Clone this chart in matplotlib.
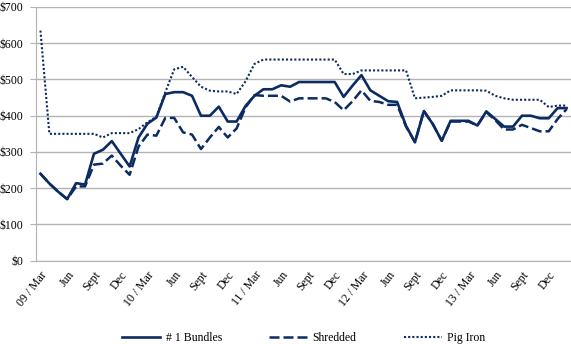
import matplotlib
matplotlib.use("Agg")
import matplotlib.pyplot as plt
import numpy as np

# monthly prices, Mar 2009 .. Feb 2014
bundles = [240, 213, 190, 170, 214, 210, 295, 306, 330, 295,
           260, 340, 378, 395, 460, 465, 465, 455, 400, 400,
           425, 384, 384, 427, 455, 473, 473, 484, 480, 493,
           493, 493, 493, 493, 452, 483, 512, 470, 455, 440,
           438, 372, 327, 413, 377, 331, 386, 386, 386, 373,
           412, 391, 370, 370, 400, 400, 393, 393, 421, 421]
shredded = [240, 213, 190, 170, 205, 205, 265, 268, 290, 262,
            237, 315, 348, 345, 394, 394, 354, 348, 308, 340,
            369, 340, 365, 423, 457, 455, 455, 455, 439, 448,
            448, 448, 448, 438, 415, 440, 470, 441, 438, 430,
            430, 370, 327, 413, 377, 331, 384, 384, 384, 373,
            410, 388, 362, 362, 375, 366, 357, 357, 391, 418]
pig_iron = [635, 350, 350, 350, 350, 350, 350, 340, 352, 352,
            352, 363, 382, 397, 465, 528, 535, 507, 480, 469,
            467, 467, 460, 495, 543, 555, 555, 555, 555, 555,
            555, 555, 555, 555, 515, 515, 525, 525, 525, 525,
            525, 525, 448, 450, 452, 455, 470, 470, 470, 470,
            469, 455, 448, 444, 444, 444, 444, 424, 428, 428]
tick_labels = ["09 / Mar", "Jun", "Sept", "Dec",
               "10 / Mar", "Jun", "Sept", "Dec",
               "11 / Mar", "Jun", "Sept", "Dec",
               "12 / Mar", "Jun", "Sept", "Dec",
               "13 / Mar", "Jun", "Sept", "Dec"]
y_ticks = [0, 100, 200, 300, 400, 500, 600, 700]

navy = "#0c2b63"
grid_grey = "#b3b3b3"

plt.rcParams["font.family"] = ["Liberation Serif", "DejaVu Serif"]
plt.rcParams["font.size"] = 8.5

fig = plt.figure(figsize=(5.71, 3.44), dpi=100)
ax = fig.add_axes([36 / 571, 1 - 260.7 / 344, 1 - 36 / 571, (260.7 - 7) / 344])

x = np.arange(len(bundles))
ax.plot(x, bundles, color=navy, lw=1.9, label="# 1 Bundles")
ax.plot(x, shredded, color=navy, lw=1.8, linestyle=(0, (4, 1.6)), label="Shredded")
ax.plot(x, pig_iron, color=navy, lw=1.5, linestyle=(0, (1, 1)), label="Pig Iron")

ax.set_xlim(-0.5, len(bundles) - 0.5)
ax.set_ylim(0, 700)
ax.set_yticks(y_ticks)
ax.set_yticklabels([r"\$%d" % v for v in y_ticks])
ax.set_xticks(x[::3])
ax.set_xticklabels(tick_labels, rotation=52, ha="right", rotation_mode="anchor")

ax.grid(axis="y", color=grid_grey, lw=1)
ax.set_axisbelow(True)
for side in ["top", "right"]:
    ax.spines[side].set_visible(False)
ax.spines["left"].set_color(grid_grey)
ax.spines["bottom"].set_color(grid_grey)
ax.tick_params(axis="y", length=4, color=grid_grey, pad=5)
ax.tick_params(axis="x", length=0, pad=6)

fig.legend(loc="lower center", bbox_to_anchor=(0.532, -0.03), ncol=3, frameon=False,
           handlelength=3.2, handletextpad=0.5, columnspacing=4.0, fontsize=8.5)

fig.savefig("out.png", dpi=100)
